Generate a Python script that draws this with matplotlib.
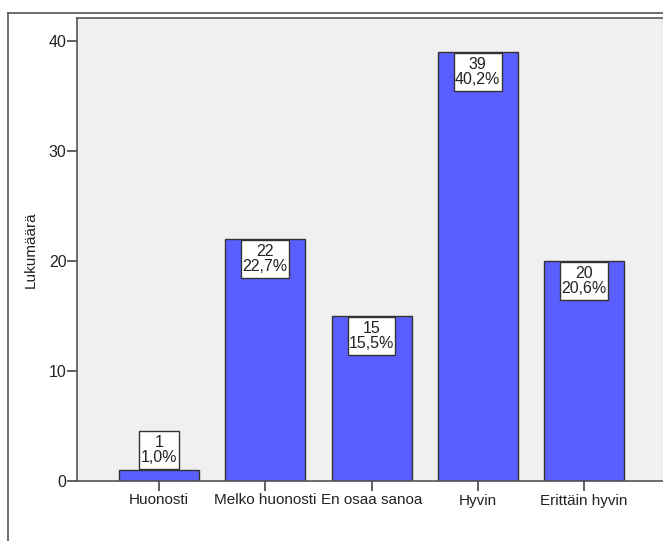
import matplotlib
matplotlib.use("Agg")
import matplotlib.pyplot as plt
from matplotlib.lines import Line2D
from matplotlib.path import Path

categories = ["Huonosti", "Melko huonosti", "En osaa sanoa", "Hyvin", "Erittäin hyvin"]
counts = [1, 22, 15, 39, 20]
percents = ["1,0%", "22,7%", "15,5%", "40,2%", "20,6%"]
yticks = [0, 10, 20, 30, 40]

W, H = 663, 541
plt.rcParams["font.family"] = ["Liberation Sans", "DejaVu Sans"]
fig = plt.figure(figsize=(W / 100, H / 100), dpi=100)
fig.patch.set_facecolor("white")

# outer chart frame (left and top edges)
fig.add_artist(Line2D([8 / W, 8 / W], [0, 1 - 13 / H], transform=fig.transFigure,
                      color="#555555", lw=1.2))
fig.add_artist(Line2D([8 / W, 1.0], [1 - 13 / H, 1 - 13 / H], transform=fig.transFigure,
                      color="#555555", lw=1.2))

left_px, right_px, top_px, bot_px = 77, 720, 18, 481
ax = fig.add_axes([left_px / W, (H - bot_px) / H, (right_px - left_px) / W, (bot_px - top_px) / H])
ax.set_facecolor("#f0f0f0")

x = list(range(len(categories)))
ax.bar(x, counts, width=0.753, color="#5a5eff", edgecolor="#333333", linewidth=1.0, zorder=2)

ax.set_xlim(-0.772, -0.772 + (right_px - left_px) / 106.25)
ax.set_ylim(0, 42.09)
ax.set_yticks(yticks)
ax.set_xticks(x)
ax.set_xticklabels(categories)

for s in ["top", "left", "bottom"]:
    ax.spines[s].set_color("#555555")
    ax.spines[s].set_linewidth(1.2)
ax.spines["right"].set_visible(False)

ax.tick_params(axis="both", direction="out", length=7, width=1.2, color="#444444",
               labelsize=11, labelcolor="#222222")
ax.tick_params(axis="x", pad=2)
ax.tick_params(axis="y", pad=0.5, labelsize=11.5)
ax.set_ylabel("Lukumäärä", fontsize=11, color="#222222", labelpad=8)

# label box: tight horizontally, roomy vertically
PAD_X, PAD_Y = 0.08, 0.26


def label_box(x0, y0, width, height, mutation_size):
    px = PAD_X * mutation_size
    py = PAD_Y * mutation_size
    x0, y0 = x0 - px, y0 - py
    x1, y1 = x0 + width + 2 * px, y0 + height + 2 * py
    return Path([(x0, y0), (x1, y0), (x1, y1), (x0, y1), (x0, y0)],
                [Path.MOVETO, Path.LINETO, Path.LINETO, Path.LINETO, Path.CLOSEPOLY])


FS = 11.5
box = dict(boxstyle=label_box, fc="white", ec="#333333", lw=1.0)
for xi, c, p in zip(x, counts, percents):
    label = f"{c}\n{p}"
    if c >= 5:
        ax.annotate(label, xy=(xi, c), xytext=(0, -PAD_Y * FS - 0.5), textcoords="offset points",
                    ha="center", va="top", fontsize=FS, linespacing=1.0, color="#222222",
                    bbox=box, zorder=3)
    else:
        ax.annotate(label, xy=(xi, c), xytext=(0, PAD_Y * FS + 0.5), textcoords="offset points",
                    ha="center", va="bottom", fontsize=FS, linespacing=1.0, color="#222222",
                    bbox=box, zorder=3)

fig.savefig("out.png", dpi=100)
